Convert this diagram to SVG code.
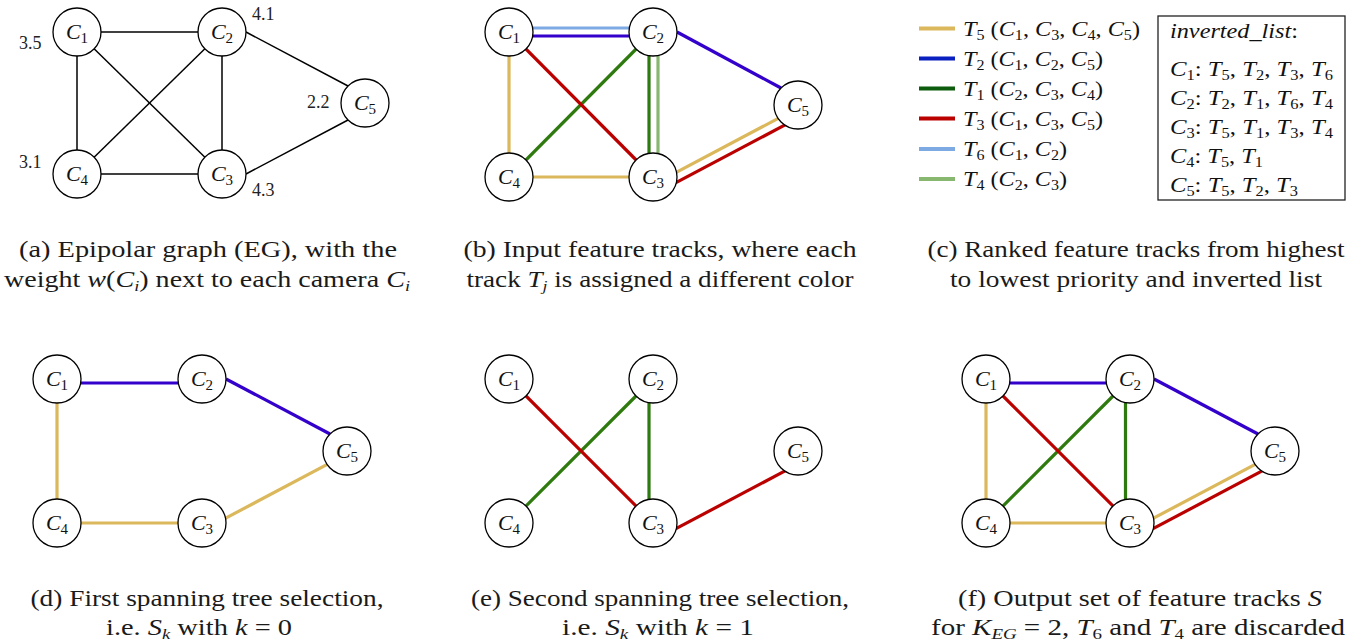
<svg xmlns="http://www.w3.org/2000/svg" width="1363" height="644" viewBox="0 0 1363 644">
<style>
.nd circle{fill:#fff;stroke:#000;stroke-width:1.3}
.nl{font-family:"Liberation Serif","Times New Roman",Times,serif;font-size:22px;font-style:italic;text-anchor:middle;fill:#111}
.sb{font-style:normal;font-size:15px}
.e{fill:none;stroke-width:3.2}
.k{stroke:#000;stroke-width:1.5;fill:none}
.y{stroke:#dcb85c}.b{stroke:#3300cc}.g{stroke:#2e7a0e}.r{stroke:#bb0000}.lb{stroke:#7eaae4}.lg{stroke:#88b870}
.w{font-family:"Liberation Serif","Times New Roman",Times,serif;font-size:18px;fill:#222}
.cap{font-family:"Liberation Serif","Times New Roman",Times,serif;font-size:23px;text-anchor:middle;fill:#1a1a1a}
.lt{font-family:"Liberation Serif","Times New Roman",Times,serif;font-size:21px;fill:#111}
.it{font-style:italic}
.s{font-style:normal;font-size:14px}
.cs{font-size:15px}
.leg{stroke-width:4}
</style>

<g id="connectors">
  <g id="conn-a">
    <line class="k" x1="77" y1="32" x2="222" y2="32"/>
    <line class="k" x1="77" y1="32" x2="77" y2="174"/>
    <line class="k" x1="77" y1="32" x2="222" y2="174"/>
    <line class="k" x1="222" y1="32" x2="77" y2="174"/>
    <line class="k" x1="222" y1="32" x2="222" y2="174"/>
    <line class="k" x1="77" y1="174" x2="222" y2="174"/>
    <line class="k" x1="246" y1="32" x2="348" y2="86"/>
    <line class="k" x1="246" y1="174" x2="348" y2="120"/>
  </g>
  <g id="conn-b">
    <line class="e lb" x1="509" y1="28" x2="653" y2="28"/>
    <line class="e b" x1="509" y1="36" x2="653" y2="36"/>
    <line class="e b" x1="677" y1="32" x2="781" y2="88"/>
    <line class="e y" x1="509" y1="32" x2="509" y2="177"/>
    <line class="e y" x1="509" y1="177" x2="653" y2="177"/>
    <line class="e y" x1="671.5" y1="174.9" x2="782.5" y2="116.1"/>
    <line class="e g" x1="653" y1="32" x2="509" y2="177"/>
    <line class="e g" x1="649" y1="32" x2="649" y2="177"/>
    <line class="e lg" x1="658" y1="32" x2="658" y2="177"/>
    <line class="e r" x1="509" y1="32" x2="653" y2="177"/>
    <line class="e r" x1="675.5" y1="182.9" x2="786.5" y2="124.1"/>
  </g>
  <g id="conn-d">
    <line class="e b" x1="57" y1="383" x2="202" y2="383"/>
    <line class="e b" x1="226" y1="379" x2="330" y2="434"/>
    <line class="e y" x1="57" y1="379" x2="57" y2="523"/>
    <line class="e y" x1="57" y1="523" x2="202" y2="523"/>
    <line class="e y" x1="220.5" y1="520.9" x2="331.5" y2="462.1"/>
  </g>
  <g id="conn-e">
    <line class="e g" x1="653" y1="379" x2="509" y2="523"/>
    <line class="e g" x1="649" y1="379" x2="649" y2="523"/>
    <line class="e r" x1="509" y1="379" x2="653" y2="523"/>
    <line class="e r" x1="675.5" y1="528.9" x2="786.5" y2="470.1"/>
  </g>
  <g id="conn-f">
    <line class="e b" x1="986" y1="383" x2="1130" y2="383"/>
    <line class="e b" x1="1154" y1="379" x2="1258" y2="434"/>
    <line class="e y" x1="986" y1="379" x2="986" y2="523"/>
    <line class="e y" x1="986" y1="523" x2="1130" y2="523"/>
    <line class="e y" x1="1148.4" y1="520.9" x2="1259.4" y2="462.1"/>
    <line class="e g" x1="1130" y1="379" x2="986" y2="523"/>
    <line class="e g" x1="1125.5" y1="379" x2="1125.5" y2="523"/>
    <line class="e r" x1="986" y1="379" x2="1130" y2="523"/>
    <line class="e r" x1="1152.6" y1="528.9" x2="1263.6" y2="470.1"/>
  </g>
</g>

<!-- panel a nodes -->
<g id="a-C1" class="nd"><circle cx="77" cy="32" r="24"/><text class="nl" x="77" y="39">C<tspan class="sb" dy="4">1</tspan></text></g>
<g id="a-C2" class="nd"><circle cx="222" cy="32" r="24"/><text class="nl" x="222" y="39">C<tspan class="sb" dy="4">2</tspan></text></g>
<g id="a-C3" class="nd"><circle cx="222" cy="174" r="24"/><text class="nl" x="222" y="181">C<tspan class="sb" dy="4">3</tspan></text></g>
<g id="a-C4" class="nd"><circle cx="77" cy="174" r="24"/><text class="nl" x="77" y="181">C<tspan class="sb" dy="4">4</tspan></text></g>
<g id="a-C5" class="nd"><circle cx="365" cy="103" r="24"/><text class="nl" x="365" y="110">C<tspan class="sb" dy="4">5</tspan></text></g>
<g id="a-weights">
  <text class="w" x="19" y="49">3.5</text>
  <text class="w" x="252" y="20">4.1</text>
  <text class="w" x="307" y="108">2.2</text>
  <text class="w" x="19" y="168">3.1</text>
  <text class="w" x="252" y="196">4.3</text>
</g>

<!-- panel b nodes -->
<g id="b-C1" class="nd"><circle cx="509" cy="32" r="24"/><text class="nl" x="509" y="39">C<tspan class="sb" dy="4">1</tspan></text></g>
<g id="b-C2" class="nd"><circle cx="653" cy="32" r="24"/><text class="nl" x="653" y="39">C<tspan class="sb" dy="4">2</tspan></text></g>
<g id="b-C3" class="nd"><circle cx="653" cy="177" r="24"/><text class="nl" x="653" y="184">C<tspan class="sb" dy="4">3</tspan></text></g>
<g id="b-C4" class="nd"><circle cx="509" cy="177" r="24"/><text class="nl" x="509" y="184">C<tspan class="sb" dy="4">4</tspan></text></g>
<g id="b-C5" class="nd"><circle cx="798" cy="105" r="24"/><text class="nl" x="798" y="112">C<tspan class="sb" dy="4">5</tspan></text></g>

<!-- panel d nodes -->
<g id="d-C1" class="nd"><circle cx="57" cy="379" r="24"/><text class="nl" x="57" y="386">C<tspan class="sb" dy="4">1</tspan></text></g>
<g id="d-C2" class="nd"><circle cx="202" cy="379" r="24"/><text class="nl" x="202" y="386">C<tspan class="sb" dy="4">2</tspan></text></g>
<g id="d-C3" class="nd"><circle cx="202" cy="523" r="24"/><text class="nl" x="202" y="530">C<tspan class="sb" dy="4">3</tspan></text></g>
<g id="d-C4" class="nd"><circle cx="57" cy="523" r="24"/><text class="nl" x="57" y="530">C<tspan class="sb" dy="4">4</tspan></text></g>
<g id="d-C5" class="nd"><circle cx="347" cy="451" r="24"/><text class="nl" x="347" y="458">C<tspan class="sb" dy="4">5</tspan></text></g>

<!-- panel e nodes -->
<g id="e-C1" class="nd"><circle cx="509" cy="379" r="24"/><text class="nl" x="509" y="386">C<tspan class="sb" dy="4">1</tspan></text></g>
<g id="e-C2" class="nd"><circle cx="653" cy="379" r="24"/><text class="nl" x="653" y="386">C<tspan class="sb" dy="4">2</tspan></text></g>
<g id="e-C3" class="nd"><circle cx="653" cy="523" r="24"/><text class="nl" x="653" y="530">C<tspan class="sb" dy="4">3</tspan></text></g>
<g id="e-C4" class="nd"><circle cx="509" cy="523" r="24"/><text class="nl" x="509" y="530">C<tspan class="sb" dy="4">4</tspan></text></g>
<g id="e-C5" class="nd"><circle cx="798" cy="451" r="24"/><text class="nl" x="798" y="458">C<tspan class="sb" dy="4">5</tspan></text></g>

<!-- panel f nodes -->
<g id="f-C1" class="nd"><circle cx="986" cy="379" r="24"/><text class="nl" x="986" y="386">C<tspan class="sb" dy="4">1</tspan></text></g>
<g id="f-C2" class="nd"><circle cx="1130" cy="379" r="24"/><text class="nl" x="1130" y="386">C<tspan class="sb" dy="4">2</tspan></text></g>
<g id="f-C3" class="nd"><circle cx="1130" cy="523" r="24"/><text class="nl" x="1130" y="530">C<tspan class="sb" dy="4">3</tspan></text></g>
<g id="f-C4" class="nd"><circle cx="986" cy="523" r="24"/><text class="nl" x="986" y="530">C<tspan class="sb" dy="4">4</tspan></text></g>
<g id="f-C5" class="nd"><circle cx="1275" cy="451" r="24"/><text class="nl" x="1275" y="458">C<tspan class="sb" dy="4">5</tspan></text></g>

<!-- legend -->
<g id="legend">
  <line class="leg" stroke="#dcb85c" x1="919" y1="28.5" x2="955" y2="28.5"/>
  <line class="leg" stroke="#0a1fbf" x1="919" y1="58.5" x2="955" y2="58.5"/>
  <line class="leg" stroke="#0d5c0d" x1="919" y1="88.5" x2="955" y2="88.5"/>
  <line class="leg" stroke="#bb0000" x1="919" y1="118.5" x2="955" y2="118.5"/>
  <line class="leg" stroke="#7eaae4" x1="919" y1="149" x2="955" y2="149"/>
  <line class="leg" stroke="#88b870" x1="919" y1="179" x2="955" y2="179"/>
  <text class="lt" x="963" y="35.5" textLength="177" lengthAdjust="spacingAndGlyphs"><tspan class="it">T</tspan><tspan class="s" dy="4">5</tspan><tspan dy="-4"> (</tspan><tspan class="it">C</tspan><tspan class="s" dy="4">1</tspan><tspan dy="-4">, </tspan><tspan class="it">C</tspan><tspan class="s" dy="4">3</tspan><tspan dy="-4">, </tspan><tspan class="it">C</tspan><tspan class="s" dy="4">4</tspan><tspan dy="-4">, </tspan><tspan class="it">C</tspan><tspan class="s" dy="4">5</tspan><tspan dy="-4">)</tspan></text>
  <text class="lt" x="963" y="65.5" textLength="140" lengthAdjust="spacingAndGlyphs"><tspan class="it">T</tspan><tspan class="s" dy="4">2</tspan><tspan dy="-4"> (</tspan><tspan class="it">C</tspan><tspan class="s" dy="4">1</tspan><tspan dy="-4">, </tspan><tspan class="it">C</tspan><tspan class="s" dy="4">2</tspan><tspan dy="-4">, </tspan><tspan class="it">C</tspan><tspan class="s" dy="4">5</tspan><tspan dy="-4">)</tspan></text>
  <text class="lt" x="963" y="95.5" textLength="140" lengthAdjust="spacingAndGlyphs"><tspan class="it">T</tspan><tspan class="s" dy="4">1</tspan><tspan dy="-4"> (</tspan><tspan class="it">C</tspan><tspan class="s" dy="4">2</tspan><tspan dy="-4">, </tspan><tspan class="it">C</tspan><tspan class="s" dy="4">3</tspan><tspan dy="-4">, </tspan><tspan class="it">C</tspan><tspan class="s" dy="4">4</tspan><tspan dy="-4">)</tspan></text>
  <text class="lt" x="963" y="125.5" textLength="140" lengthAdjust="spacingAndGlyphs"><tspan class="it">T</tspan><tspan class="s" dy="4">3</tspan><tspan dy="-4"> (</tspan><tspan class="it">C</tspan><tspan class="s" dy="4">1</tspan><tspan dy="-4">, </tspan><tspan class="it">C</tspan><tspan class="s" dy="4">3</tspan><tspan dy="-4">, </tspan><tspan class="it">C</tspan><tspan class="s" dy="4">5</tspan><tspan dy="-4">)</tspan></text>
  <text class="lt" x="963" y="156" textLength="104" lengthAdjust="spacingAndGlyphs"><tspan class="it">T</tspan><tspan class="s" dy="4">6</tspan><tspan dy="-4"> (</tspan><tspan class="it">C</tspan><tspan class="s" dy="4">1</tspan><tspan dy="-4">, </tspan><tspan class="it">C</tspan><tspan class="s" dy="4">2</tspan><tspan dy="-4">)</tspan></text>
  <text class="lt" x="963" y="186" textLength="104" lengthAdjust="spacingAndGlyphs"><tspan class="it">T</tspan><tspan class="s" dy="4">4</tspan><tspan dy="-4"> (</tspan><tspan class="it">C</tspan><tspan class="s" dy="4">2</tspan><tspan dy="-4">, </tspan><tspan class="it">C</tspan><tspan class="s" dy="4">3</tspan><tspan dy="-4">)</tspan></text>
</g>

<!-- inverted list -->
<g id="inverted-list">
  <rect x="1158" y="16" width="187" height="184" fill="#fff" stroke="#222" stroke-width="1.3"/>
  <text class="lt" x="1170" y="38" textLength="128" lengthAdjust="spacingAndGlyphs"><tspan class="it">inverted_list</tspan>:</text>
  <text class="lt" x="1170" y="76" textLength="163" lengthAdjust="spacingAndGlyphs"><tspan class="it">C</tspan><tspan class="s" dy="4">1</tspan><tspan dy="-4">:  </tspan><tspan class="it">T</tspan><tspan class="s" dy="4">5</tspan><tspan dy="-4">, </tspan><tspan class="it">T</tspan><tspan class="s" dy="4">2</tspan><tspan dy="-4">, </tspan><tspan class="it">T</tspan><tspan class="s" dy="4">3</tspan><tspan dy="-4">, </tspan><tspan class="it">T</tspan><tspan class="s" dy="4">6</tspan></text>
  <text class="lt" x="1170" y="105" textLength="163" lengthAdjust="spacingAndGlyphs"><tspan class="it">C</tspan><tspan class="s" dy="4">2</tspan><tspan dy="-4">:  </tspan><tspan class="it">T</tspan><tspan class="s" dy="4">2</tspan><tspan dy="-4">, </tspan><tspan class="it">T</tspan><tspan class="s" dy="4">1</tspan><tspan dy="-4">, </tspan><tspan class="it">T</tspan><tspan class="s" dy="4">6</tspan><tspan dy="-4">, </tspan><tspan class="it">T</tspan><tspan class="s" dy="4">4</tspan></text>
  <text class="lt" x="1170" y="134" textLength="163" lengthAdjust="spacingAndGlyphs"><tspan class="it">C</tspan><tspan class="s" dy="4">3</tspan><tspan dy="-4">:  </tspan><tspan class="it">T</tspan><tspan class="s" dy="4">5</tspan><tspan dy="-4">, </tspan><tspan class="it">T</tspan><tspan class="s" dy="4">1</tspan><tspan dy="-4">, </tspan><tspan class="it">T</tspan><tspan class="s" dy="4">3</tspan><tspan dy="-4">, </tspan><tspan class="it">T</tspan><tspan class="s" dy="4">4</tspan></text>
  <text class="lt" x="1170" y="163" textLength="93" lengthAdjust="spacingAndGlyphs"><tspan class="it">C</tspan><tspan class="s" dy="4">4</tspan><tspan dy="-4">:  </tspan><tspan class="it">T</tspan><tspan class="s" dy="4">5</tspan><tspan dy="-4">, </tspan><tspan class="it">T</tspan><tspan class="s" dy="4">1</tspan></text>
  <text class="lt" x="1170" y="192" textLength="128" lengthAdjust="spacingAndGlyphs"><tspan class="it">C</tspan><tspan class="s" dy="4">5</tspan><tspan dy="-4">:  </tspan><tspan class="it">T</tspan><tspan class="s" dy="4">5</tspan><tspan dy="-4">, </tspan><tspan class="it">T</tspan><tspan class="s" dy="4">2</tspan><tspan dy="-4">, </tspan><tspan class="it">T</tspan><tspan class="s" dy="4">3</tspan></text>
</g>

<!-- captions -->
<g id="captions">
  <text class="cap" x="208" y="257" textLength="378" lengthAdjust="spacingAndGlyphs">(a) Epipolar graph (EG), with the</text>
  <text class="cap" x="207" y="287" textLength="406" lengthAdjust="spacingAndGlyphs">weight <tspan class="it">w</tspan>(<tspan class="it">C</tspan><tspan class="it cs" dy="4">i</tspan><tspan dy="-4">) next to each camera </tspan><tspan class="it">C</tspan><tspan class="it cs" dy="4">i</tspan></text>
  <text class="cap" x="660" y="257" textLength="393" lengthAdjust="spacingAndGlyphs">(b) Input feature tracks, where each</text>
  <text class="cap" x="660" y="287" textLength="387" lengthAdjust="spacingAndGlyphs">track <tspan class="it">T</tspan><tspan class="it cs" dy="4">j</tspan><tspan dy="-4"> is assigned a different color</tspan></text>
  <text class="cap" x="1136" y="257" textLength="417" lengthAdjust="spacingAndGlyphs">(c) Ranked feature tracks from highest</text>
  <text class="cap" x="1136" y="287" textLength="372" lengthAdjust="spacingAndGlyphs">to lowest priority and inverted list</text>
  <text class="cap" x="207" y="606" textLength="353" lengthAdjust="spacingAndGlyphs">(d) First spanning tree selection,</text>
  <text class="cap" x="199" y="635" textLength="186" lengthAdjust="spacingAndGlyphs">i.e. <tspan class="it">S</tspan><tspan class="it cs" dy="4">k</tspan><tspan dy="-4"> with </tspan><tspan class="it">k</tspan> = 0</text>
  <text class="cap" x="660" y="606" textLength="378" lengthAdjust="spacingAndGlyphs">(e) Second spanning tree selection,</text>
  <text class="cap" x="658" y="635" textLength="192" lengthAdjust="spacingAndGlyphs">i.e. <tspan class="it">S</tspan><tspan class="it cs" dy="4">k</tspan><tspan dy="-4"> with </tspan><tspan class="it">k</tspan> = 1</text>
  <text class="cap" x="1140" y="606" textLength="364" lengthAdjust="spacingAndGlyphs">(f) Output set of feature tracks <tspan class="it">S</tspan></text>
  <text class="cap" x="1138" y="635" textLength="414" lengthAdjust="spacingAndGlyphs">for <tspan class="it">K</tspan><tspan class="it cs" dy="4">EG</tspan><tspan dy="-4"> = 2, </tspan><tspan class="it">T</tspan><tspan class="cs" dy="4">6</tspan><tspan dy="-4"> and </tspan><tspan class="it">T</tspan><tspan class="cs" dy="4">4</tspan><tspan dy="-4"> are discarded</tspan></text>
</g>
</svg>
